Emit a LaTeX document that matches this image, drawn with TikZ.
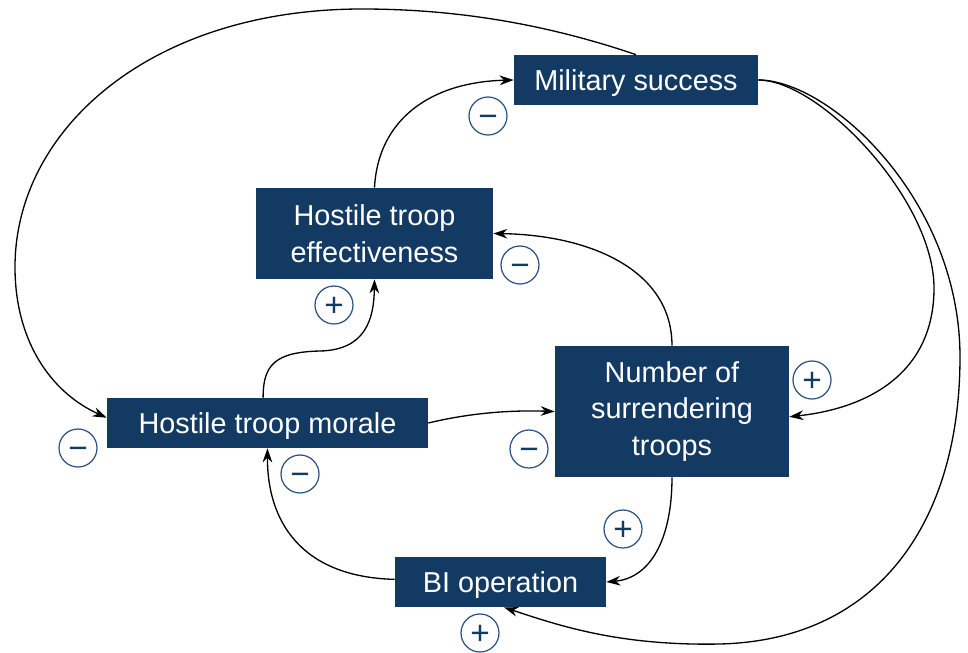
\documentclass[tikz,border=0pt]{standalone}
\usepackage{fontspec}
\setmainfont{Liberation Sans}
\usetikzlibrary{arrows.meta}
\definecolor{boxblue}{HTML}{133A63}
\definecolor{signblue}{HTML}{2B5283}

\begin{document}
\begin{tikzpicture}[x=0.02cm,y=-0.02cm,
		factor/.style={fill=boxblue, text=white, align=center, inner sep=0pt, font=\fontsize{16.4}{21}\selectfont},
		oneline/.style={text height=11.7pt, text depth=0pt},
		sign/.style={circle, draw=signblue, line width=0.7pt, text=boxblue, minimum size=0.76cm, inner sep=0pt, text height=13.4pt, text depth=0pt, font=\fontsize{19}{19}\selectfont},
		link/.style={line width=0.75pt, -{Stealth[length=8pt,width=5.5pt]}}]
		\useasboundingbox (0,0) rectangle (968,653);
		
		\node[factor, oneline, minimum width=4.88cm, minimum height=1cm] (mil) at (636,80) {Military success};
		\node[factor, minimum width=4.74cm, minimum height=1.82cm] (eff) at (374.5,233.5) {Hostile troop\\effectiveness};
		\node[factor, oneline, minimum width=6.42cm, minimum height=1cm] (mor) at (267.5,423) {Hostile troop morale};
		\node[factor, minimum width=4.68cm, minimum height=2.62cm] (surr) at (672,411.5) {Number of\\surrendering\\troops};
		\node[factor, oneline, minimum width=4.22cm, minimum height=1cm] (bi) at (500.5,582) {BI operation};
		
		% effectiveness -> success
		\draw[link] (eff.north) .. controls (378,120) and (430,82) .. (mil.west);
		% success -> morale, round the top and the left side
		\draw[link] (mil.north) .. controls (540,22) and (450,9) .. (362,9) .. controls (150,9) and (15,130) .. (15,267) .. controls (15,340) and (50,392) .. ([yshift=3pt]mor.west);
		% success -> surrendering
		\draw[link] (mil.east) .. controls (820,80) and (934,200) .. (934,288) .. controls (934,372) and (870,408) .. ([yshift=-3pt]surr.east);
		% success -> BI, the outer loop
		\draw[link] (mil.east) .. controls (830,80) and (960,200) .. (960,357) .. controls (960,520) and (880,640) .. (720,644) .. controls (620,646) and (560,626) .. ([xshift=2pt]bi.south);
		% surrendering -> effectiveness
		\draw[link] (surr.north) .. controls (672,270) and (590,235) .. (eff.east);
		% morale -> effectiveness
		\draw[link] ([xshift=-2.5pt]mor.north) .. controls (263,365) and (275,352) .. (320,351) .. controls (365,350) and (374,320) .. (eff.south);
		% morale -> surrendering
		\draw[link] (mor.east) .. controls (470,413) and (510,410) .. (surr.west);
		% surrendering -> BI
		\draw[link] (surr.south) .. controls (672,540) and (650,578) .. (bi.east);
		% BI -> morale
		\draw[link] ([yshift=1.5pt]bi.west) .. controls (300,577) and (267,520) .. (mor.south);
		
		%\node[sign] at (0,0) {+};
		\node[sign] (s1) at (488,116) {−};
		\node[sign] (s2) at (520,265) {−};
		\node[sign] (s3) at (334,305) {+};
		\node[sign] (s4) at (78,448) {−};
		\node[sign] (s5) at (300,474) {−};
		\node[sign] (s6) at (529,449) {−};
		\node[sign] (s7) at (812,380) {+};
		\node[sign] (s8) at (623,529) {+};
		\node[sign] (s9) at (480,633) {+};
		
\end{tikzpicture}
\end{document}
